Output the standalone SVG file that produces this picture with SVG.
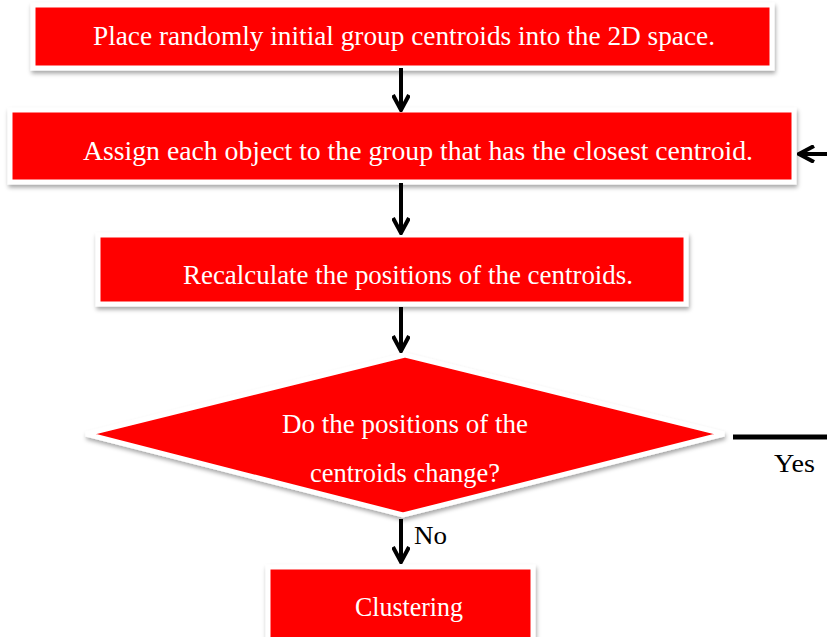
<svg xmlns="http://www.w3.org/2000/svg" width="827" height="637" viewBox="0 0 827 637">
  <defs>
    <filter id="shadow" x="-5%" y="-10%" width="110%" height="130%">
      <feDropShadow dx="1" dy="3" stdDeviation="2" flood-color="#000" flood-opacity="0.35"/>
    </filter>
    <marker id="chev" viewBox="0 0 20 18" refX="18" refY="9" markerWidth="20" markerHeight="18" markerUnits="userSpaceOnUse" orient="auto">
      <path d="M3,1 L18,9 L3,17" fill="none" stroke="#000" stroke-width="4" stroke-linejoin="miter"/>
    </marker>
  </defs>
  <style>
    .box { fill: #ff0000; stroke: #ffffff; stroke-width: 5; filter: url(#shadow); }
    .lbl { font-family: "Liberation Serif", "DejaVu Serif", "Times New Roman", serif; font-size: 27px; fill: #ffffff; }
    .tag { font-family: "Liberation Serif", "DejaVu Serif", "Times New Roman", serif; font-size: 26px; fill: #000000; }
    .conn { stroke: #000; stroke-width: 4; fill: none; }
  </style>
  <rect width="827" height="637" fill="#ffffff"/>

  <g id="place">
    <rect class="box" x="33" y="5" width="739" height="63"/>
    <text class="lbl" x="93" y="45" textLength="622" lengthAdjust="spacingAndGlyphs">Place randomly initial  group centroids into the 2D space.</text>
  </g>

  <g id="assign">
    <rect class="box" x="10" y="110" width="784" height="72"/>
    <text class="lbl" x="83" y="160" textLength="670" lengthAdjust="spacingAndGlyphs">Assign each object to the group that has the closest centroid.</text>
  </g>

  <g id="recalc">
    <rect class="box" x="98" y="235" width="588" height="69"/>
    <text class="lbl" x="183" y="284" textLength="450" lengthAdjust="spacingAndGlyphs">Recalculate  the positions  of the centroids.</text>
  </g>

  <g id="decision">
    <polygon class="box" points="405,355 724,434 403,515 86,434"/>
    <text class="lbl" x="282" y="433" textLength="246" lengthAdjust="spacingAndGlyphs">Do the positions  of the</text>
    <text class="lbl" x="310" y="482" textLength="190" lengthAdjust="spacingAndGlyphs">centroids  change?</text>
  </g>

  <g id="clustering">
    <rect class="box" x="268" y="567" width="265" height="90"/>
    <text class="lbl" x="355" y="616" textLength="108" lengthAdjust="spacingAndGlyphs">Clustering</text>
  </g>

  <g id="connectors">
    <line class="conn" x1="401" y1="68" x2="401" y2="110" marker-end="url(#chev)"/>
    <line class="conn" x1="401" y1="183" x2="401" y2="233" marker-end="url(#chev)"/>
    <line class="conn" x1="401" y1="307" x2="401" y2="351" marker-end="url(#chev)"/>
    <line class="conn" x1="401" y1="519" x2="401" y2="562" marker-end="url(#chev)"/>
    <line x1="733" y1="437" x2="827" y2="437" stroke="#000" stroke-width="5"/>
    <line class="conn" x1="827" y1="154" x2="799" y2="154" marker-end="url(#chev)"/>
    <text class="tag" x="774" y="472" textLength="41" lengthAdjust="spacingAndGlyphs">Yes</text>
    <text class="tag" x="414" y="544" textLength="33" lengthAdjust="spacingAndGlyphs">No</text>
  </g>
</svg>
